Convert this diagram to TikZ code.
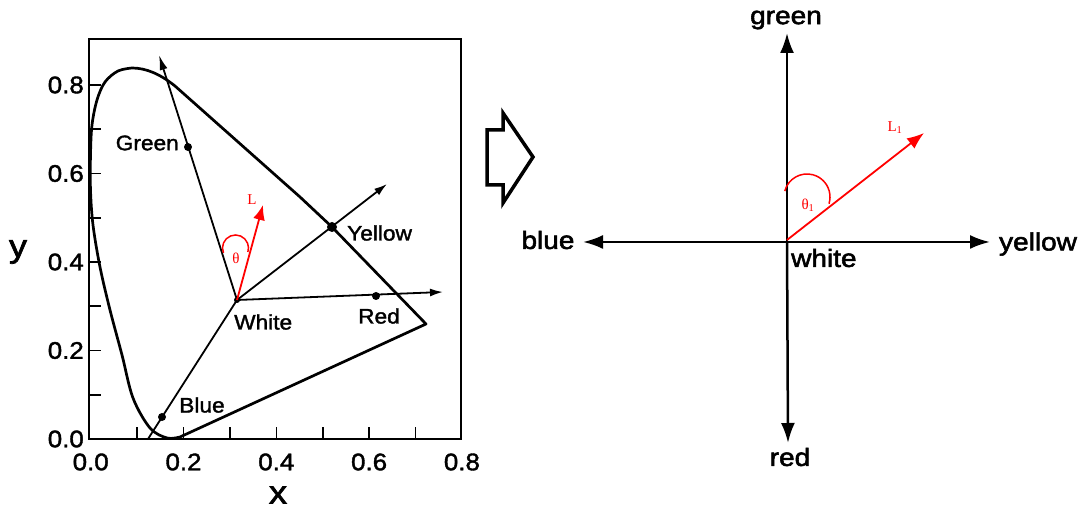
\documentclass[tikz,border=0pt]{standalone}
\usepackage{fontspec}
\setmainfont{Liberation Sans}
\newfontfamily\labfont[FakeStretch=1.08,FakeBold=1.6]{Liberation Sans}
\newfontfamily\bigfont[FakeStretch=1.12,FakeBold=2.2]{Liberation Sans}
\newfontfamily\redfont{Liberation Serif}
\usetikzlibrary{arrows.meta}
\begin{document}
\begin{tikzpicture}[x=1pt,y=1pt,
  axline/.style={line width=1.8pt},
  smallarrow/.style={line width=1.8pt,-{Latex[length=13pt,width=8pt]}},
  dot/.style={circle,fill=black,inner sep=0pt,minimum size=8pt},
  lbl/.style={font=\labfont\fontsize{21}{24}\selectfont, inner sep=0pt},
  ticklbl/.style={font=\labfont\fontsize{24}{26}\selectfont, inner sep=0pt},
  axtitle/.style={font=\bigfont\fontsize{32}{34}\selectfont, inner sep=0pt},
  bigaxis/.style={line width=2.5pt,-{Latex[length=20pt,width=14pt]}},
  bigl/.style={font=\bigfont\fontsize{25}{28}\selectfont, inner sep=0pt},
  redl/.style={font=\redfont\fontsize{15}{17}\selectfont, text=red, inner sep=0pt},
  redline/.style={red, line width=1.5pt},
  redarrow/.style={red, line width=1.8pt,-{Latex[length=15pt,width=12pt]}},
  tickline/.style={line width=1.6pt}]
\useasboundingbox (0,0) rectangle (1081,510);

% ---------- left chart ----------
\draw[line width=1.8pt] (89,71) rectangle (461,471);
\foreach \k in {1,...,8} \draw[tickline] (89,{71+44.25*\k}) -- ++(12,0);
\foreach \k in {1,...,7} \draw[tickline] ({90.7+46.4*\k},71) -- ++(0,12);
\foreach \v/\k in {0.0/0,0.2/2,0.4/4,0.6/6,0.8/8}
  \node[ticklbl,anchor=east] (yl\k) at (84,{71+44.25*\k}) {\v};
\foreach \v/\k in {0.0/0,0.2/2,0.4/4,0.6/6,0.8/8}
  \node[ticklbl] (xl\k) at ({90.7+46.4*\k},48) {\v};
\node[axtitle] (xt) at (278,15) {x};
\node[axtitle] (yt) at (18,258) {y};

% spectral locus
\draw[line width=2.7pt, line join=round] plot[smooth, tension=0.55] coordinates {
 (180,73) (167,72) (150,82) (133,112) (122,155) (110,200) (100,243) (93,285)
 (90.5,320) (90.5,355) (92,385) (97,410) (105,428) (118,439) (132,442)}
 .. controls (146,442) and (160,436) .. (175,424)
 -- (300,313) -- (332,283) -- (426,186) -- cycle;

% points
\coordinate (W) at (237,210);
\coordinate (Gt) at (159,455);
\coordinate (Yt) at (387,326);
\coordinate (Rt) at (443,218);
\coordinate (Be) at (148,71);
\coordinate (Lt) at (263,305);

\draw[smallarrow,-{Latex[length=15pt,width=8pt]}] (W) -- (Gt);
\draw[smallarrow] (W) -- (Yt);
\draw[smallarrow] (W) -- (Rt);
\draw[axline] (W) -- (Be);

\node[dot] (Gd) at (188,363) {};
\node[dot,minimum size=10pt] (Yd) at (332,283) {};
\node[dot] (Rd) at (376,214) {};
\node[dot] (Bd) at (162,93) {};
\node[dot,minimum size=6pt] (Wd) at (W) {};

\node[lbl,anchor=east] (Gl) at (179,367) {Green};
\node[lbl,anchor=west] (Yl) at (347,277) {Yellow};
\node[lbl] (Rl) at (379,194) {Red};
\node[lbl,anchor=west] (Wl) at (234,188) {White};
\node[lbl] (Bl) at (202,105) {Blue};

\draw[redarrow] (W) -- (Lt);
\node[redl] (Ll) at (252,310) {L};
\draw[redline] (235.5,262) ++(202:13) arc[start angle=202,end angle=-18,radius=13];
\node[redl] (th) at (236,252) {θ};

% ---------- hollow arrow ----------
\draw[line width=3.5pt] (487,380) -- (503,380) -- (503,397) -- (533,353) -- (503,307) -- (503,325) -- (487,325) -- cycle;

% ---------- right chart ----------
\coordinate (O) at (787,268);
\coordinate (Tg) at (787,477);
\coordinate (Tr) at (788,67);
\coordinate (Tb) at (583,268);
\coordinate (Ty) at (990,268);
\draw[bigaxis] (O) -- (Tg);
\draw[bigaxis] (O) -- (Tr);
\draw[bigaxis] (O) -- (Tb);
\draw[bigaxis] (O) -- (Ty);

\node[bigl] (gl) at (786,490) {green};
\node[bigl] (rl) at (790,53) {red};
\node[bigl] (bl) at (548,270) {blue};
\node[bigl] (yl) at (1038,266) {yellow};
\node[bigl,anchor=west] (wl) at (791,252) {white};

\coordinate (O1) at (787,270);
\coordinate (L1t) at (924,377);
\draw[redarrow,-{Latex[length=17pt,width=13pt]}] (O1) -- (L1t);
\node[redl] (L1l) at (895,382) {L\textsubscript{1}};
\draw[redline] (807,313) ++(165:23) arc[start angle=165,end angle=-17,radius=23];
\node[redl] (th1) at (808,305) {θ\textsubscript{1}};
\end{tikzpicture}
\end{document}
